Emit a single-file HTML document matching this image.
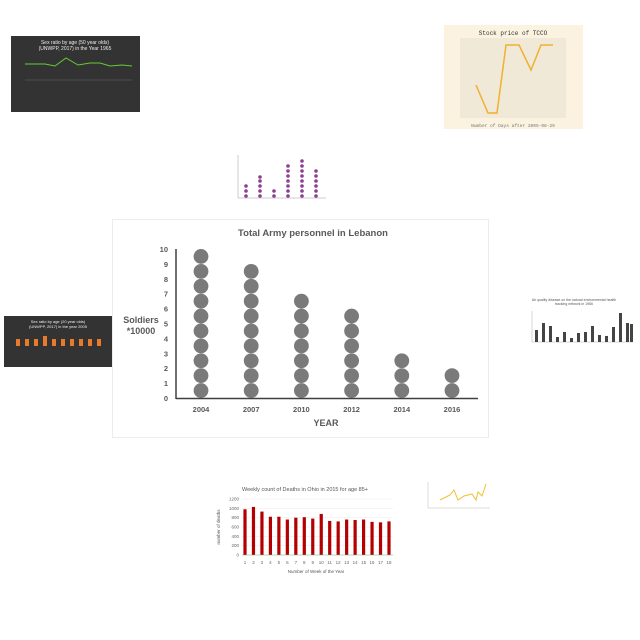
<!DOCTYPE html>
<html><head><meta charset="utf-8"><style>
body{margin:0;background:#fff;width:640px;height:640px;overflow:hidden;font-family:"Liberation Sans",sans-serif}
svg{display:block}
</style></head><body>
<svg id="s" width="640" height="640" viewBox="0 0 640 640" xmlns="http://www.w3.org/2000/svg">
<g>
<rect x="11" y="36" width="129" height="76" fill="#333"/>
<text x="75" y="44" font-size="5" fill="#eee" text-anchor="middle">Sex ratio by age (50 year olds)</text>
<text x="75" y="50" font-size="5" fill="#eee" text-anchor="middle">(UNWPP, 2017) in the Year 1965</text>
<polyline points="25,64 45,64 55,66 66,58 78,65 90,63 100,63 110,66 122,65 132,66" fill="none" stroke="#6c3" stroke-width="1"/>
<line x1="25" y1="80" x2="132" y2="80" stroke="#666" stroke-width="0.5"/>
</g>
<g>
<rect x="444" y="25" width="139" height="104" fill="#fbf3e0"/>
<rect x="460" y="38" width="106" height="80" fill="#f0e9d8"/>
<text x="513" y="35" font-size="6" font-family="Liberation Mono" fill="#333" text-anchor="middle">Stock price of TCCO</text>
<polyline points="476,85 488,113 497,113 506,45 519,45 531,70 541,45 553,45" fill="none" stroke="#f0b030" stroke-width="1.5"/>
<text x="513" y="127" font-size="4.5" font-family="Liberation Mono" fill="#777" text-anchor="middle">Number of Days after 2005-08-29</text>
</g>
<g fill="#8b3f8f">
<line x1="238" y1="155" x2="238" y2="198" stroke="#999" stroke-width="0.5"/>
<line x1="238" y1="198" x2="326" y2="198" stroke="#999" stroke-width="0.5"/>
<circle cx="246" cy="196" r="1.8"/><circle cx="246" cy="191" r="1.8"/><circle cx="246" cy="186" r="1.8"/>
<circle cx="260" cy="196" r="1.8"/><circle cx="260" cy="191" r="1.8"/><circle cx="260" cy="186" r="1.8"/><circle cx="260" cy="181" r="1.8"/><circle cx="260" cy="177" r="1.8"/>
<circle cx="274" cy="196" r="1.8"/><circle cx="274" cy="191" r="1.8"/>
<circle cx="288" cy="196" r="1.8"/><circle cx="288" cy="191" r="1.8"/><circle cx="288" cy="186" r="1.8"/><circle cx="288" cy="181" r="1.8"/><circle cx="288" cy="176" r="1.8"/><circle cx="288" cy="171" r="1.8"/><circle cx="288" cy="166" r="1.8"/>
<circle cx="302" cy="196" r="1.8"/><circle cx="302" cy="191" r="1.8"/><circle cx="302" cy="186" r="1.8"/><circle cx="302" cy="181" r="1.8"/><circle cx="302" cy="176" r="1.8"/><circle cx="302" cy="171" r="1.8"/><circle cx="302" cy="166" r="1.8"/><circle cx="302" cy="161" r="1.8"/>
<circle cx="316" cy="196" r="1.8"/><circle cx="316" cy="191" r="1.8"/><circle cx="316" cy="186" r="1.8"/><circle cx="316" cy="181" r="1.8"/><circle cx="316" cy="176" r="1.8"/><circle cx="316" cy="171" r="1.8"/>
</g>
<g>
<rect x="4" y="316" width="109" height="51" fill="#333"/>
<text x="58" y="323" font-size="4" fill="#eee" text-anchor="middle">Sex ratio by age (20 year olds)</text>
<text x="58" y="328" font-size="4" fill="#eee" text-anchor="middle">(UNWPP, 2017) in the year 2005</text>
<g fill="#e87a2a"><rect x="16" y="339" width="4" height="7"/><rect x="25" y="339" width="4" height="7"/><rect x="34" y="339" width="4" height="7"/><rect x="43" y="336" width="4" height="10"/><rect x="52" y="339" width="4" height="7"/><rect x="61" y="339" width="4" height="7"/><rect x="70" y="339" width="4" height="7"/><rect x="79" y="339" width="4" height="7"/><rect x="88" y="339" width="4" height="7"/><rect x="97" y="339" width="4" height="7"/></g>
</g>
<g fill="#444">
<text x="574" y="301" font-size="3.5" fill="#555" text-anchor="middle">Air quality disease on the natural environmental health</text>
<text x="574" y="305" font-size="3.5" fill="#555" text-anchor="middle">tracking network in 1966</text>
<line x1="532" y1="311" x2="532" y2="342" stroke="#999" stroke-width="0.4"/>
<line x1="532" y1="342" x2="633" y2="342" stroke="#999" stroke-width="0.4"/>
<rect x="535" y="330" width="3" height="12"/><rect x="542" y="323" width="3" height="19"/><rect x="549" y="326" width="3" height="16"/><rect x="556" y="337" width="3" height="5"/><rect x="563" y="332" width="3" height="10"/><rect x="570" y="338" width="3" height="4"/><rect x="577" y="333" width="3" height="9"/><rect x="584" y="332" width="3" height="10"/><rect x="591" y="326" width="3" height="16"/><rect x="598" y="335" width="3" height="7"/><rect x="605" y="336" width="3" height="6"/><rect x="612" y="327" width="3" height="15"/><rect x="619" y="313" width="3" height="29"/><rect x="626" y="323" width="3" height="19"/><rect x="630" y="324" width="3" height="18"/>
</g>
<g>
<line x1="428" y1="482" x2="428" y2="508" stroke="#aaa" stroke-width="0.4"/>
<line x1="428" y1="508" x2="490" y2="508" stroke="#aaa" stroke-width="0.4"/>
<polyline points="440,500 450,495 454,490 458,500 464,496 472,494 476,500 478,492 482,496 486,484" fill="none" stroke="#f0c030" stroke-width="1"/>
</g>

<g>
<rect x="112.5" y="219.5" width="376" height="218" fill="#fff" stroke="#ececec"/>
<text x="313" y="236" font-size="9.5" font-weight="bold" fill="#595959" text-anchor="middle">Total Army personnel in Lebanon</text>
<text x="141" y="323" font-size="9" font-weight="bold" fill="#595959" text-anchor="middle">Soldiers</text>
<text x="141" y="334" font-size="9" font-weight="bold" fill="#595959" text-anchor="middle">*10000</text>
<text x="326" y="426" font-size="9" font-weight="bold" fill="#595959" text-anchor="middle">YEAR</text>
<g id="yticks"></g><g id="xticks"></g><g id="dots"></g>
<line x1="176" y1="249" x2="176" y2="399" stroke="#404040" stroke-width="1.5"/>
<line x1="176" y1="398.5" x2="478" y2="398.5" stroke="#404040" stroke-width="1.5"/>
</g>

<g>
<text x="305" y="491" font-size="5.5" fill="#555" text-anchor="middle">Weekly count of Deaths in Ohio in 2015 for age 85+</text>
<text x="220" y="527" font-size="4.5" fill="#555" text-anchor="middle" transform="rotate(-90 220 527)">number of deaths</text>
<text x="316" y="573" font-size="4.5" fill="#555" text-anchor="middle">Number of Week of the Year</text>
<g id="dgrid"></g><g id="dbars"></g>
<line x1="242" y1="555" x2="393" y2="555" stroke="#7fbf7f" stroke-width="0.6"/>
</g>
</svg>
<script>
const years=['2004','2007','2010','2012','2014','2016'];
const soldiers=[10,9,7,6,3,2];
const yTicks=[0,1,2,3,4,5,6,7,8,9,10];
const weeks=[1,2,3,4,5,6,7,8,9,10,11,12,13,14,15,16,17,18];
const deaths=[980,1030,930,820,820,760,800,810,780,880,730,720,760,750,760,710,700,720];
const deathTicks=[0,200,400,600,800,1000,1200];
const NS='http://www.w3.org/2000/svg';
function mk(t,a,p){const e=document.createElementNS(NS,t);for(const k in a)e.setAttribute(k,a[k]);p.appendChild(e);return e;}
const y=v=>398-v*14.9;
const x=i=>201+i*50.2;
const yt=document.getElementById('yticks');
yTicks.forEach(v=>{const t=mk('text',{x:168,y:y(v)+3,'font-size':7.5,'font-weight':'bold',fill:'#595959','text-anchor':'end'},yt);t.textContent=v;

});
const xt=document.getElementById('xticks'),dg=document.getElementById('dots');
years.forEach((yr,i)=>{const t=mk('text',{x:x(i),y:412,'font-size':7.5,'font-weight':'bold',fill:'#595959','text-anchor':'middle'},xt);t.textContent=yr;


for(let k=0;k<soldiers[i];k++){const c=mk('circle',{cx:x(i),cy:y(k+0.5),r:7.4,fill:'#7a7a7a'},dg);

}});
const dy=v=>555-v*(56/1200), dx=i=>245+i*(144/17);
const gg=document.getElementById('dgrid'),db=document.getElementById('dbars');
deathTicks.forEach(v=>{mk('line',{x1:242,x2:393,y1:dy(v),y2:dy(v),stroke:'#e8e8e8','stroke-width':0.5},gg);
const t=mk('text',{x:239,y:dy(v)+1.5,'font-size':4.5,fill:'#666','text-anchor':'end'},gg);t.textContent=v;

});
weeks.forEach((w,i)=>{const r=mk('rect',{x:dx(i)-1.6,y:dy(deaths[i]),width:3.2,height:555-dy(deaths[i]),fill:'#b30000'},db);


const t=mk('text',{x:dx(i),y:564,'font-size':4.5,fill:'#666','text-anchor':'middle'},db);t.textContent=w;

});
</script>
</body></html>
